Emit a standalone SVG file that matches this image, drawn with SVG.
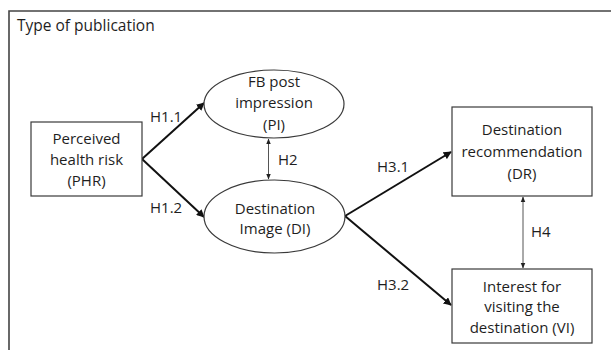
<svg xmlns="http://www.w3.org/2000/svg" width="611" height="350" viewBox="0 0 611 350">
<defs>
<style>
text{font-family:"Open Sans","Liberation Sans",sans-serif;fill:#1e1e1e;font-size:15px}
.c{text-anchor:middle}
.node{fill:#fff;stroke:#3a3a3a;stroke-width:1.2}
.main{stroke:#111;stroke-width:2;fill:none;marker-end:url(#ah)}
.thin{stroke:#555;stroke-width:1;fill:none;marker-start:url(#as);marker-end:url(#ae)}
</style>
<marker id="ah" viewBox="0 0 10 10" refX="9" refY="5" markerWidth="4" markerHeight="4" orient="auto" markerUnits="strokeWidth"><path d="M0,0 L10,5 L0,10 z" fill="#111"/></marker>
<marker id="ae" viewBox="0 0 10 10" refX="9" refY="5" markerWidth="6" markerHeight="6" orient="auto" markerUnits="strokeWidth"><path d="M0,1 L10,5 L0,9 z" fill="#222"/></marker>
<marker id="as" viewBox="0 0 10 10" refX="1" refY="5" markerWidth="6" markerHeight="6" orient="auto" markerUnits="strokeWidth"><path d="M10,1 L0,5 L10,9 z" fill="#222"/></marker>
</defs>
<rect width="611" height="350" fill="#fff"/>
<g id="frame">
<path d="M9,351 L9,11 L612,11" fill="none" stroke="#444" stroke-width="1.6"/>
<text x="17" y="31" style="font-size:15.5px">Type of publication</text>
</g>
<g id="connectors">
<path class="main" d="M142,159 L204,103"/>
<path class="main" d="M142,159 L204,217"/>
<path class="main" d="M345,216 L451,152"/>
<path class="main" d="M345,216 L451,305"/>
<path class="thin" d="M268.5,139 L268.5,179"/>
<path class="thin" d="M523,197 L523,268"/>
<text x="150" y="122">H1.1</text>
<text x="150" y="213">H1.2</text>
<text x="278" y="165">H2</text>
<text x="377" y="172">H3.1</text>
<text x="377" y="290">H3.2</text>
<text x="531" y="237">H4</text>
</g>
<g id="PHR">
<rect class="node" x="31" y="122" width="111" height="74"/>
<text class="c" x="86.5" y="144">Perceived</text>
<text class="c" x="86.5" y="165">health risk</text>
<text class="c" x="86.5" y="186">(PHR)</text>
</g>
<g id="PI">
<ellipse class="node" cx="274" cy="104" rx="70" ry="34"/>
<text class="c" x="274" y="87">FB post</text>
<text class="c" x="274" y="108">impression</text>
<text class="c" x="274" y="130">(PI)</text>
</g>
<g id="DI">
<ellipse class="node" cx="274.5" cy="216.5" rx="70.5" ry="36.5"/>
<text class="c" x="275" y="214">Destination</text>
<text class="c" x="275" y="234">Image (DI)</text>
</g>
<g id="DR">
<rect class="node" x="452" y="107" width="140" height="89"/>
<text class="c" x="522" y="135">Destination</text>
<text class="c" x="522" y="157">recommendation</text>
<text class="c" x="522" y="179">(DR)</text>
</g>
<g id="VI">
<rect class="node" x="452" y="269" width="140" height="74"/>
<text class="c" x="522" y="292">Interest for</text>
<text class="c" x="522" y="312">visiting the</text>
<text class="c" x="522" y="333">destination (VI)</text>
</g>
</svg>
